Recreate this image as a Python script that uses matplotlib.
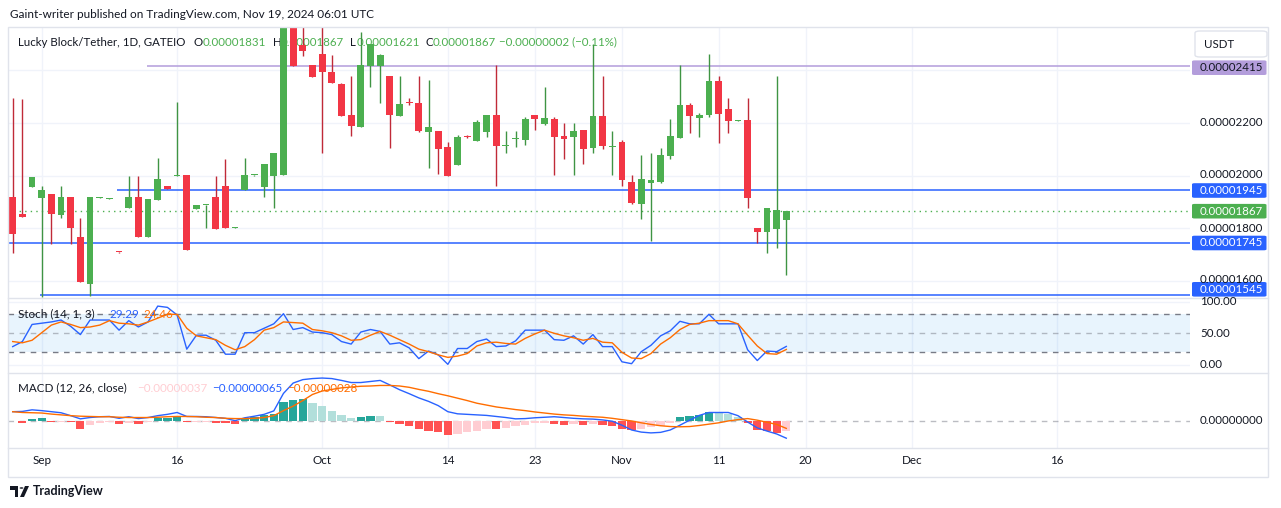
import matplotlib
matplotlib.use('Agg')
import matplotlib.pyplot as plt
import numpy as np
import pandas as pd
from matplotlib.patches import Rectangle, FancyBboxPatch, Polygon, Circle
from matplotlib.lines import Line2D

plt.rcParams['font.family'] = ['Lato', 'DejaVu Sans']

# daily candles, prices in units of 1e-8 USDT
dates = pd.date_range('2024-08-30', '2024-11-18', freq='D')
opens = [1918, 1852, 1958, 1916, 1930, 1851, 1918, 1766, 1589, 1916, 1912, 1709, 1878, 1918, 1768, 1908, 1960,
         2000, 2002, 1874, 1887, 1918, 1960, 1802, 1945, 2001, 1958, 1999, 2003, 2600, 2496, 2420, 2462, 2393,
         2348, 2230, 2186, 2417, 2417, 2378, 2227, 2275, 2275, 2167, 2169, 2108, 2041, 2147, 2132, 2167, 2229,
         2112, 2138, 2136, 2229, 2197, 2215, 2150, 2145, 2173, 2106, 2226, 2110, 2127, 1975, 1893, 1973, 1975,
         2075, 2144, 2268, 2220, 2231, 2359, 2253, 2209, 2211, 1799, 1787, 1798, 1831]
highs = [2296, 2291, 1994, 1961, 1930, 1961, 1918, 1839, 1918, 1918, 1914, 1710, 1999, 1999, 1911, 2068, 1960,
         2281, 2002, 1888, 1888, 1999, 2064, 1804, 2068, 2003, 2044, 2086, 2620, 2620, 2580, 2420, 2590, 2459,
         2353, 2378, 2547, 2500, 2462, 2378, 2378, 2293, 2378, 2363, 2169, 2127, 2153, 2154, 2211, 2230, 2421,
         2169, 2169, 2222, 2229, 2336, 2221, 2200, 2200, 2173, 2500, 2378, 2169, 2135, 2002, 2078, 2086, 2105,
         2215, 2420, 2276, 2238, 2462, 2378, 2295, 2211, 2295, 1799, 1875, 2378, 1867]
lows = [1707, 1844, 1958, 1540, 1739, 1840, 1739, 1597, 1542, 1916, 1911, 1707, 1878, 1768, 1768, 1908, 1950,
        2000, 1718, 1874, 1802, 1798, 1802, 1801, 1945, 2000, 1920, 1878, 2003, 2417, 2455, 2376, 2087, 2353,
        2227, 2150, 2186, 2338, 2277, 2106, 2227, 2268, 2167, 2030, 2006, 1999, 2041, 2141, 2132, 2145, 1961,
        2087, 2110, 2117, 2174, 2192, 2002, 2064, 2002, 2045, 2087, 2102, 2002, 1961, 1893, 1836, 1752, 1973,
        2064, 2144, 2163, 2148, 2224, 2125, 2163, 2208, 1878, 1742, 1707, 1726, 1621]
closes = [1779, 1844, 1994, 1945, 1855, 1918, 1802, 1597, 1918, 1917, 1913, 1708, 1918, 1768, 1911, 1987, 1950,
          2001, 1718, 1888, 1888, 1798, 1802, 1803, 2002, 2002, 2044, 2086, 2600, 2417, 2474, 2376, 2395, 2353,
          2227, 2189, 2420, 2500, 2458, 2231, 2272, 2274, 2170, 2184, 2102, 1999, 2148, 2146, 2203, 2230, 2113,
          2113, 2139, 2215, 2216, 2219, 2145, 2140, 2169, 2102, 2226, 2113, 2111, 1983, 1897, 1987, 1983, 2078,
          2150, 2268, 2227, 2230, 2359, 2235, 2208, 2210, 1916, 1785, 1875, 1869, 1867]

stoch_k = [29, 37, 64, 66, 68, 71, 61, 48, 71, 71, 71, 55, 70, 60, 68, 93, 91, 79, 25, 47, 47, 39, 17, 17, 51, 51,
           58, 65, 81, 56, 59, 52, 51, 48, 37, 33, 52, 56, 53, 33, 35, 27, 10, 22, 16, 1, 26, 26, 37, 41, 29, 30,
           38, 55, 55, 55, 40, 39, 46, 33, 48, 29, 29, 5, 2, 21, 31, 46, 54, 69, 65, 65, 80, 65, 65, 65, 24, 7, 22,
           21, 29.29]
stoch_d = [37, 35, 39, 51, 63, 68, 64, 59, 60, 63, 70, 66, 65, 63, 68, 74, 80, 80, 58, 46, 43, 40, 31, 24, 29, 40,
           55, 59, 68, 67, 66, 56, 54, 51, 46, 39, 40, 47, 53, 47, 40, 33, 25, 21, 16, 12, 14, 18, 30, 35, 36, 34,
           33, 42, 49, 55, 50, 46, 43, 39, 42, 36, 35, 20, 11, 10, 18, 33, 43, 56, 64, 66, 70, 70, 70, 65, 47, 30,
           18, 17, 24.46]

macd_line = [35, 36, 42, 39, 35, 31, 20, 8, 13, 16, 17, 10, 16, 9, 13, 20, 25, 32, 17, 17, 16, 13, 10, 1, 12, 18,
             25, 38, 104, 143, 156, 160, 162, 160, 153, 145, 145, 149, 153, 136, 118, 103, 87, 74, 58, 35, 27, 25,
             23, 21, 17, 13, 8, 9, 12, 14, 16, 13, 10, 8, 7, 4, -1, -16, -34, -42, -45, -43, -34, -16, 3, 21, 32,
             32, 32, 20, -4, -26, -38, -49, -65]
signal_line = [35, 32, 31, 30, 26, 23, 20, 18, 17, 16, 16, 14, 13, 13, 13, 14, 16, 17, 17, 16, 14, 13, 10, 9, 9, 10,
               13, 20, 39, 56, 77, 100, 113, 119, 125, 128, 131, 132, 134, 134, 132, 127, 119, 112, 103, 95, 86,
               77, 67, 60, 53, 48, 43, 39, 34, 30, 26, 23, 21, 18, 16, 14, 10, 5, 0, -7, -13, -18, -21, -22, -21,
               -17, -12, -7, 0, 5, 9, 3, -5, -13, -28]
macd_hist = [-2, -6.5, 7.8, 11.7, -3.9, -2.6, -3.9, -28.5, -16.9, -7.8, -5.2, -13, -7.8, -13, -3.9, 13, 13, 16.9,
             -5.2, -3.9, -2.6, -9.1, -9.5, -13, 9.1, 15.6, 20.8, 25.9, 72.6, 77.8, 83, 67.4, 55.8, 38.9, 23.3,
             10.4, 15.6, 18.2, 16.9, -3.9, -11.7, -19.5, -29.8, -36.3, -42.8, -54.5, -48, -42.8, -38.9, -28.5,
             -31, -26, -20, -14, -9, -6, -10, -14, -12, -15, -13, -16, -20, -30, -34, -30, -24, -18, -8, 14, 20,
             24, 34, 31, 27, 14, -7, -34, -37, -44, -37]

tick_dates = ['2024-09-02', '2024-09-16', '2024-10-01', '2024-10-14', '2024-10-23', '2024-11-01',
              '2024-11-11', '2024-11-20', '2024-12-01', '2024-12-16']
tick_labels = ['Sep', '16', 'Oct', '14', '23', 'Nov', '11', '20', 'Dec', '16']

W, H = 1281, 508
fig = plt.figure(figsize=(W / 100, H / 100), dpi=100)
fig.patch.set_facecolor('white')


def fx(px):
    return px / W


def fy(py):
    return 1 - py / H


x = np.arange(len(dates))
o, h, l, c = (np.array(a, dtype=float) for a in (opens, highs, lows, closes))
tick_x = [(pd.Timestamp(d) - dates[0]).days for d in tick_dates]

LEFT, RIGHT = 8, 1190
X0, DX = 12.7, 9.67  # pixel of first candle, pixels per day
GRID = '#f0f3fa'
TXT = '#131722'


def pane(top, bottom):
    ax = fig.add_axes([fx(LEFT), fy(bottom), (RIGHT - LEFT) / W, (bottom - top) / H])
    ax.set_xlim((LEFT - X0) / DX, (RIGHT - X0) / DX)
    for s in ax.spines.values():
        s.set_visible(False)
    ax.set_xticks(tick_x)
    ax.tick_params(length=0, labelbottom=False, labelleft=False)
    ax.set_facecolor('none')
    ax.grid(axis='x', color=GRID, lw=1)
    ax.set_axisbelow(True)
    return ax


# ---- main price pane
ax = pane(27, 298)
ax.set_ylim(1534.7, 2564.3)
ax.set_yticks([1600, 1800, 2000, 2200, 2400])
ax.grid(axis='y', color=GRID, lw=1)

up = c >= o
body_col = np.where(up, '#4caf50', '#f23645')
wick_col = np.where(up, '#3f9443', '#c02a38')
ax.vlines(x, l, h, colors=wick_col, lw=1, zorder=3)
ax.bar(x, np.maximum(np.abs(c - o), 3.5), bottom=np.minimum(o, c), width=0.7,
       color=body_col, zorder=4, linewidth=0)

xmax = (RIGHT - X0) / DX
ax.hlines(2415, (146.7 - X0) / DX, xmax, color='#b39ddb', lw=1.1, zorder=2)
ax.hlines(1945, (117.3 - X0) / DX, xmax, color='#2962ff', lw=1.1, zorder=2)
ax.hlines(1745, (LEFT - X0) / DX, xmax, color='#2962ff', lw=1.1, zorder=2)
ax.hlines(1545, (40 - X0) / DX, xmax, color='#2962ff', lw=1.1, zorder=2)
ax.axhline(closes[-1], color='#4caf50', ls=(0, (1, 3)), lw=1, zorder=2)

# header legend (drawn under the candles)
hdr = [(18, 'Lucky Block/Tether, 1D, GATEIO', TXT), (193, 'O', TXT), (203, '0.00001831', '#4caf50'),
       (273, 'H', TXT), (281, '0.00001867', '#4caf50'), (350, 'L', TXT), (357, '0.00001621', '#4caf50'),
       (426, 'C', TXT), (433, '0.00001867', '#4caf50'), (499, '\u22120.00000002 (\u22120.11%)', '#4caf50')]
for px, s, col in hdr:
    ax.text(fx(px), fy(42), s, color=col, fontsize=8.3, va='center', ha='left',
            transform=fig.transFigure, zorder=1, clip_on=False)

# ---- stochastic pane
ax2 = pane(298, 373)
ax2.set_ylim(-12.7, 105.8)
ax2.set_yticks([0, 100])
ax2.grid(axis='y', color=GRID, lw=1)
ax2.axhspan(20, 80, color='#2196f3', alpha=0.1, lw=0)
for lev, a in [(80, 1), (50, 0.5), (20, 1)]:
    ax2.axhline(lev, color='#787b86', alpha=a, ls=(0, (4, 4)), lw=1)
ax2.plot(x, stoch_k, color='#2962ff', lw=1)
ax2.plot(x, stoch_d, color='#ff6d00', lw=1)

# ---- MACD pane
ax3 = pane(373, 448)
ax3.set_ylim(-102, 181)
hist = np.array(macd_hist)
hcol = []
for i, v in enumerate(hist):
    prev = hist[i - 1] if i else 0
    if v >= 0:
        hcol.append('#26a69a' if v >= prev else '#b2dfdb')
    else:
        hcol.append('#ff5252' if v <= prev else '#ffcdd2')
ax3.bar(x, hist, width=0.85, color=hcol, linewidth=0, zorder=2)
ax3.axhline(0, color='#787b86', alpha=0.5, ls=(0, (4, 4)), lw=1, zorder=1)
ax3.plot(x, macd_line, color='#2962ff', lw=1, zorder=3)
ax3.plot(x, signal_line, color='#ff6d00', lw=1, zorder=3)
ax3.set_xticklabels(tick_labels)
ax3.tick_params(labelbottom=True, pad=5, labelsize=8.4, labelcolor=TXT)

# ---- frame and separators
fig.add_artist(Rectangle((fx(8), fy(477)), (1268 - 8) / W, (477 - 27) / H, transform=fig.transFigure,
                         fill=False, ec='#e0e3eb', lw=1))
for yy in (298, 373, 448):
    fig.add_artist(Line2D([fx(8), fx(1268)], [fy(yy), fy(yy)], transform=fig.transFigure,
                          color='#e0e3eb', lw=1))

fig.text(fx(10), fy(14), 'Gaint-writer published on TradingView.com, Nov 19, 2024 06:01 UTC',
         color=TXT, fontsize=8.5, va='center', ha='left')

# price scale labels
for yy, s in [(123, '0.00002200'), (175, '0.00002000'), (228.5, '0.00001800'), (279.5, '0.00001600'),
              (301.5, '100.00'), (333.3, '50.00'), (365, '0.00'), (421, '0.00000000')]:
    fig.text(fx(1200), fy(yy), s, color=TXT, fontsize=8.3, va='center', ha='left')

for yc, s, bg, fg in [(67.7, '0.00002415', '#b39ddb', TXT), (190.5, '0.00001945', '#2962ff', 'white'),
                      (211.2, '0.00001867', '#4caf50', 'white'), (243, '0.00001745', '#2962ff', 'white'),
                      (289.3, '0.00001545', '#2962ff', 'white')]:
    fig.add_artist(FancyBboxPatch((fx(1192), fy(yc + 7.3)), 74.5 / W, 14.6 / H, transform=fig.transFigure,
                                  boxstyle='round,pad=0,rounding_size=0.002', fc=bg, ec='none'))
    fig.text(fx(1199.5), fy(yc), s, color=fg, fontsize=8.3, va='center', ha='left')

# currency button
fig.add_artist(FancyBboxPatch((fx(1195), fy(57)), 72 / W, 26 / H, transform=fig.transFigure,
                              boxstyle='round,pad=0,rounding_size=0.004', fc='white', ec='#e0e3eb', lw=1))
fig.text(fx(1204), fy(44), 'USDT', color=TXT, fontsize=8.3, va='center', ha='left')

# indicator legends
fig.text(fx(18), fy(314), 'Stoch (14, 1, 3)', color=TXT, fontsize=8.4, va='center', ha='left')
fig.text(fx(109), fy(314), '29.29', color='#2962ff', fontsize=8.4, va='center', ha='left')
fig.text(fx(143), fy(314), '24.46', color='#ff6d00', fontsize=8.4, va='center', ha='left')
fig.text(fx(18), fy(388), 'MACD (12, 26, close)', color=TXT, fontsize=8.4, va='center', ha='left')
fig.text(fx(137), fy(388), '\u22120.00000037', color='#ffcdd2', fontsize=8.4, va='center', ha='left')
fig.text(fx(212), fy(388), '\u22120.00000065', color='#2962ff', fontsize=8.4, va='center', ha='left')
fig.text(fx(287), fy(388), '\u22120.00000028', color='#ff6d00', fontsize=8.4, va='center', ha='left')

# TradingView mark
fig.add_artist(Polygon([(fx(10), fy(486)), (fx(18), fy(486)), (fx(18), fy(497)), (fx(14.5), fy(497)),
                        (fx(14.5), fy(489.5)), (fx(10), fy(489.5))], closed=True,
                       transform=fig.transFigure, fc=TXT, ec='none'))
fig.add_artist(Circle((fx(21.5), fy(488)), 1.9 / W, transform=fig.transFigure, fc=TXT, ec='none'))
fig.add_artist(Polygon([(fx(25), fy(486)), (fx(29), fy(486)), (fx(24), fy(497)), (fx(20), fy(497))],
                       closed=True, transform=fig.transFigure, fc=TXT, ec='none'))
fig.text(fx(33), fy(491), 'TradingView', color=TXT, fontsize=9, fontweight='bold', va='center', ha='left')

fig.savefig('out.png', dpi=100)
